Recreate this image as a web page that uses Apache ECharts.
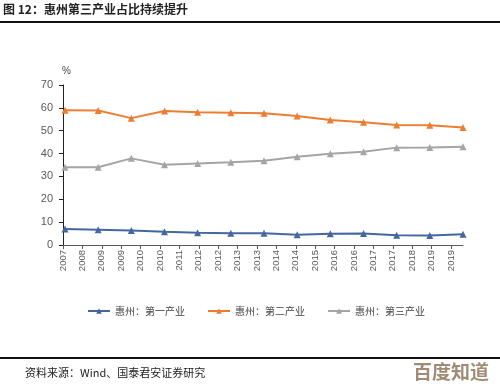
<!DOCTYPE html>
<html><head><meta charset="utf-8">
<script src="https://cdn.jsdelivr.net/npm/echarts@6/dist/echarts.min.js"></script>
<style>html,body{margin:0;padding:0;background:#fff}#c{width:500px;height:387px}</style>
</head><body><div id="c"></div>
<script>
const years = [2007,2008,2009,2010,2011,2012,2013,2014,2015,2016,2017,2018,2019];
const primary = [7.0,6.7,6.3,5.8,5.4,5.1,5.1,4.5,4.9,5.0,4.3,4.2,4.7];
const secondary = [59.0,58.8,55.5,58.6,58.1,57.9,57.6,56.4,54.7,53.7,52.5,52.4,51.4];
const tertiary = [34.0,34.0,37.9,35.1,35.7,36.2,36.9,38.6,39.9,40.8,42.6,42.7,43.0];
const xTickLabels = ['2007','2008','2009','2009','2010','2010','2011','2012','2012','2013','2013','2014','2014','2015','2016','2016','2017','2017','2018','2019','2019'];
const seriesNames = ['惠州：第一产业','惠州：第二产业','惠州：第三产业'];
const colors = ['#44689e','#ed7d31','#a5a5a5'];
const yTicks = [0,10,20,30,40,50,60,70];

const chart = echarts.init(document.getElementById('c'));
const tickIdx = xTickLabels.map((_, i) => i);
const mk = (name, vals, color) => ({
  name, type:'line', xAxisIndex:1, data: years.map((y,i)=>[y, vals[i]]),
  symbol:'triangle', symbolSize:7, lineStyle:{width:2,color}, itemStyle:{color},
  emphasis:{disabled:true}, animation:false
});
chart.setOption({
  animation:false,
  color: colors,
  grid:{left:63, right:37, top:85, bottom:142},
  xAxis:[
    {type:'value', min:0, max:20.62, position:'bottom',
     axisLine:{show:true, lineStyle:{color:'#595959', width:1}},
     axisTick:{show:true, customValues: tickIdx, length:4, lineStyle:{color:'#595959'}},
     axisLabel:{customValues: tickIdx, rotate:90, fontSize:9.5, color:'#595959', margin:5,
       fontFamily:'Liberation Sans', formatter:(v)=>xTickLabels[Math.round(v)] || ''},
     splitLine:{show:false}},
    {type:'value', min:2006.94, max:2019, show:false, splitLine:{show:false}}
  ],
  yAxis:{type:'value', min:yTicks[0], max:yTicks[yTicks.length-1], interval:10,
    axisLine:{show:true, lineStyle:{color:'#222', width:1}},
    axisTick:{show:true, length:4, lineStyle:{color:'#222'}},
    axisLabel:{fontSize:11, color:'#595959', margin:10, fontFamily:'Liberation Sans'},
    splitLine:{show:false}},
  legend:{data:seriesNames, left:82, top:301, itemWidth:22, itemHeight:7, itemGap:22,
    textStyle:{fontSize:10, color:'#444', fontFamily:'Noto Sans CJK SC'}},
  series:[mk(seriesNames[0],primary,colors[0]), mk(seriesNames[1],secondary,colors[1]), mk(seriesNames[2],tertiary,colors[2])],
  graphic:[
    {type:'text', left:3, top:3, style:{text:'图 12：惠州第三产业占比持续提升', font:'bold 12px "Noto Sans CJK SC"', fill:'#222'}},
    {type:'rect', shape:{x:0,y:21,width:500,height:2}, style:{fill:'#111'}},
    {type:'text', left:62, top:66, style:{text:'%', font:'10px "Liberation Sans"', fill:'#444'}},
    {type:'rect', shape:{x:0,y:357,width:500,height:2}, style:{fill:'#111'}},
    {type:'text', left:25, top:367, style:{text:'资料来源：Wind、国泰君安证券研究', font:'11px "Noto Sans CJK SC"', fill:'#222'}},
    {type:'text', left:413, top:362, style:{text:'百度知道', font:'bold 19px "Noto Sans CJK SC"', fill:'#a08c74'}}
  ]
});
</script></body></html>
